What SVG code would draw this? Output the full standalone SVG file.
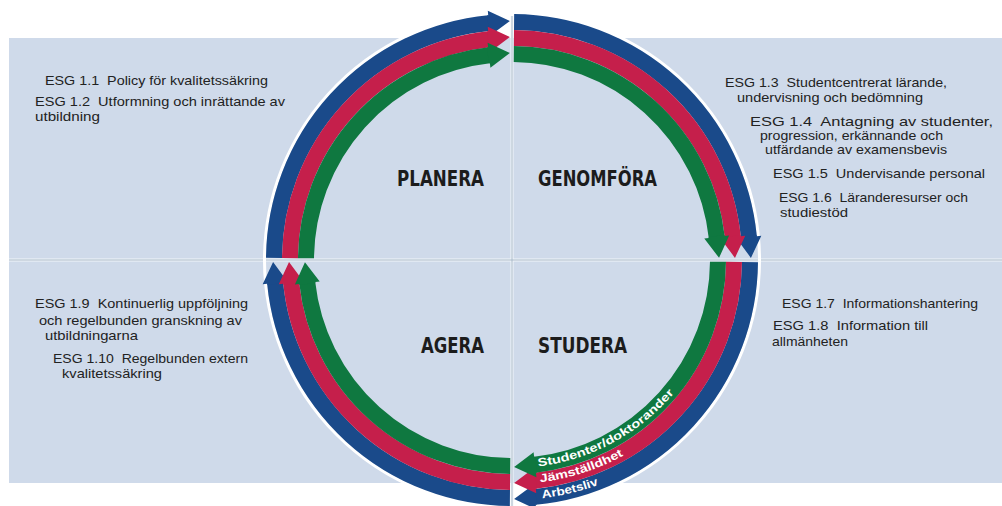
<svg xmlns="http://www.w3.org/2000/svg" width="1002" height="506" viewBox="0 0 1002 506">
<style>
.bg{fill:#cfdaea}
.div1{stroke:#f2f5f9;stroke-width:3;fill:none}
.div2{stroke:#a9bac9;stroke-width:1;fill:none}
.band{fill:none;stroke-width:16;stroke-linecap:butt}
.blue{stroke:#1a4a8a}
.red{stroke:#c51f4b}
.green{stroke:#0f7840}
.hblue{fill:#1a4a8a}
.hred{fill:#c51f4b}
.hgreen{fill:#0f7840}
.esg{font-family:"Liberation Sans",Arial,sans-serif;font-size:13px;fill:#222}
.phase{font-family:"DejaVu Sans Condensed","DejaVu Sans",sans-serif;font-weight:bold;font-size:21px;fill:#1c1c1c}
.arc{font-family:"Liberation Sans",Arial,sans-serif;font-weight:bold;font-size:11.5px;fill:#ffffff}
</style>
<defs>
<path id="pg" d="M537.33,466.45 A210,210 0 0 0 693.87,365"/>
<path id="pr" d="M539.29,482.33 A226,226 0 0 0 685.13,405.27"/>
<path id="pb" d="M541.24,498.21 A242,242 0 0 0 667.55,445.38"/>
</defs>
<rect class="bg" x="9" y="38" width="993" height="445"/>
<g id="dividers">
<line class="div1" x1="9" y1="260" x2="1002" y2="260"/>
<line class="div1" x1="512" y1="16" x2="512" y2="506"/>
<line class="div2" x1="9" y1="260" x2="1002" y2="260"/>
<line class="div2" x1="512" y1="16" x2="512" y2="506"/>
</g>
<g id="connectors">
<circle cx="512" cy="260" r="247.5" fill="none" stroke="#ffffff" stroke-width="3"/>
<path class="band blue" d="M274.01,257.92 A238,238 0 0 1 489.0,23.11"/>
<path class="band blue" d="M514.08,22.01 A238,238 0 0 1 748.89,237.0"/>
<path class="band blue" d="M749.99,262.08 A238,238 0 0 1 535.0,496.89"/>
<path class="band blue" d="M509.92,497.99 A238,238 0 0 1 275.11,283.0"/>
<path class="band red" d="M290.01,258.06 A222,222 0 0 1 489.0,39.19"/>
<path class="band red" d="M513.94,38.01 A222,222 0 0 1 732.81,237.0"/>
<path class="band red" d="M733.99,261.94 A222,222 0 0 1 535.0,480.81"/>
<path class="band red" d="M510.06,481.99 A222,222 0 0 1 291.19,283.0"/>
<path class="band green" d="M306.01,258.20 A206,206 0 0 1 489.0,55.29"/>
<path class="band green" d="M513.80,54.01 A206,206 0 0 1 716.71,237.0"/>
<path class="band green" d="M717.99,261.80 A206,206 0 0 1 535.0,464.71"/>
<path class="band green" d="M510.20,465.99 A206,206 0 0 1 307.29,283.0"/>
<g transform="translate(512 260)">
<polygon class="hblue" points="230,-1 230,0 225.5,0 238,21 250.5,0 246,0 246,-1" transform="rotate(264.455)"/>
<polygon class="hblue" points="230,-1 230,0 225.5,0 238,21 250.5,0 246,0 246,-1" transform="rotate(354.455)"/>
<polygon class="hblue" points="230,-1 230,0 225.5,0 238,21 250.5,0 246,0 246,-1" transform="rotate(84.455)"/>
<polygon class="hblue" points="230,-1 230,0 225.5,0 238,21 250.5,0 246,0 246,-1" transform="rotate(174.455)"/>
<polygon class="hred" points="214,-1 214,0 209.5,0 222,21 234.5,0 230,0 230,-1" transform="rotate(264.053)"/>
<polygon class="hred" points="214,-1 214,0 209.5,0 222,21 234.5,0 230,0 230,-1" transform="rotate(354.053)"/>
<polygon class="hred" points="214,-1 214,0 209.5,0 222,21 234.5,0 230,0 230,-1" transform="rotate(84.053)"/>
<polygon class="hred" points="214,-1 214,0 209.5,0 222,21 234.5,0 230,0 230,-1" transform="rotate(174.053)"/>
<polygon class="hgreen" points="198,-1 198,0 193.5,0 206,21 218.5,0 214,0 214,-1" transform="rotate(263.59)"/>
<polygon class="hgreen" points="198,-1 198,0 193.5,0 206,21 218.5,0 214,0 214,-1" transform="rotate(353.59)"/>
<polygon class="hgreen" points="198,-1 198,0 193.5,0 206,21 218.5,0 214,0 214,-1" transform="rotate(83.59)"/>
<polygon class="hgreen" points="198,-1 198,0 193.5,0 206,21 218.5,0 214,0 214,-1" transform="rotate(173.59)"/>
</g>
<text class="arc"><textPath href="#pg" startOffset="1" textLength="158" lengthAdjust="spacingAndGlyphs">Studenter/doktorander</textPath></text>
<text class="arc"><textPath href="#pr" startOffset="1" textLength="88" lengthAdjust="spacingAndGlyphs">Jämställdhet</textPath></text>
<text class="arc"><textPath href="#pb" startOffset="1" textLength="58" lengthAdjust="spacingAndGlyphs">Arbetsliv</textPath></text>
</g>
<g id="planera">
<text class="phase" x="397" y="186" textLength="87" lengthAdjust="spacingAndGlyphs">PLANERA</text>
</g>
<g id="genomfora">
<text class="phase" x="538" y="186" textLength="119" lengthAdjust="spacingAndGlyphs">GENOMFÖRA</text>
</g>
<g id="agera">
<text class="phase" x="421" y="353" textLength="63" lengthAdjust="spacingAndGlyphs">AGERA</text>
</g>
<g id="studera">
<text class="phase" x="538" y="353" textLength="89" lengthAdjust="spacingAndGlyphs">STUDERA</text>
</g>
<g id="esg-planera">
<text class="esg" x="45" y="85" textLength="223" lengthAdjust="spacingAndGlyphs">ESG 1.1&#160; Policy för kvalitetssäkring</text>
<text class="esg" x="35" y="106" textLength="250" lengthAdjust="spacingAndGlyphs">ESG 1.2&#160; Utformning och inrättande av</text>
<text class="esg" x="35" y="121" textLength="65" lengthAdjust="spacingAndGlyphs">utbildning</text>
</g>
<g id="esg-genomfora">
<text class="esg" x="725" y="87" textLength="222" lengthAdjust="spacingAndGlyphs">ESG 1.3&#160; Studentcentrerat lärande,</text>
<text class="esg" x="737" y="102" textLength="186" lengthAdjust="spacingAndGlyphs">undervisning och bedömning</text>
<text class="esg" x="750" y="126" textLength="243" lengthAdjust="spacingAndGlyphs">ESG 1.4&#160; Antagning av studenter,</text>
<text class="esg" x="760" y="140" textLength="183" lengthAdjust="spacingAndGlyphs">progression, erkännande och</text>
<text class="esg" x="765" y="154" textLength="182" lengthAdjust="spacingAndGlyphs">utfärdande av examensbevis</text>
<text class="esg" x="773" y="178" textLength="212" lengthAdjust="spacingAndGlyphs">ESG 1.5&#160; Undervisande personal</text>
<text class="esg" x="779" y="202" textLength="189" lengthAdjust="spacingAndGlyphs">ESG 1.6&#160; Läranderesurser och</text>
<text class="esg" x="780" y="217" textLength="68" lengthAdjust="spacingAndGlyphs">studiestöd</text>
</g>
<g id="esg-agera">
<text class="esg" x="35" y="308" textLength="213" lengthAdjust="spacingAndGlyphs">ESG 1.9&#160; Kontinuerlig uppföljning</text>
<text class="esg" x="39" y="325" textLength="203" lengthAdjust="spacingAndGlyphs">och regelbunden granskning av</text>
<text class="esg" x="45" y="340" textLength="93" lengthAdjust="spacingAndGlyphs">utbildningarna</text>
<text class="esg" x="53" y="363" textLength="195" lengthAdjust="spacingAndGlyphs">ESG 1.10&#160; Regelbunden extern</text>
<text class="esg" x="62" y="378" textLength="100" lengthAdjust="spacingAndGlyphs">kvalitetssäkring</text>
</g>
<g id="esg-studera">
<text class="esg" x="782" y="308" textLength="196" lengthAdjust="spacingAndGlyphs">ESG 1.7&#160; Informationshantering</text>
<text class="esg" x="773" y="330" textLength="155" lengthAdjust="spacingAndGlyphs">ESG 1.8&#160; Information till</text>
<text class="esg" x="772" y="346" textLength="76" lengthAdjust="spacingAndGlyphs">allmänheten</text>
</g>
</svg>
